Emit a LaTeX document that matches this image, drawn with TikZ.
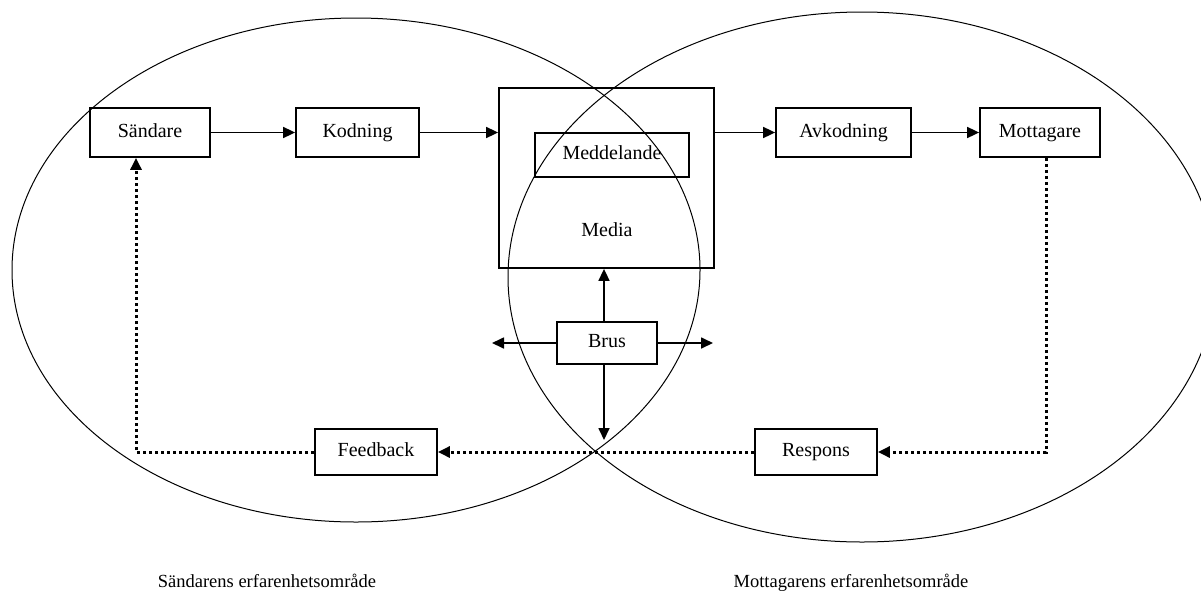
\documentclass[tikz,border=0pt]{standalone}
\usepackage{fontspec}
\setmainfont{Liberation Serif}
\usetikzlibrary{arrows.meta}

\begin{document}
\begin{tikzpicture}[x=1pt,y=-1pt,
    box/.style={draw,line width=1.8pt,inner sep=0pt,text height=13pt,text depth=4pt,
        font=\fontsize{20}{22}\selectfont},
    flow/.style={line width=1.7pt,-{Triangle[length=12pt,width=11pt]}},
    back/.style={flow,line width=3pt,dash pattern=on 3pt off 3pt},
    area/.style={text height=13pt,text depth=4pt,font=\fontsize{18.5}{20}\selectfont}]
    \useasboundingbox (0,0) rectangle (1201,603);
    \clip (0,0) rectangle (1201,603);
    % the two fields of experience
    \draw[line width=1pt] (356,270) ellipse [x radius=344, y radius=252];
    \draw[line width=1pt] (862,277) ellipse [x radius=354, y radius=265];
    \node[area] (sarea) at (267,583) {Sändarens erfarenhetsområde};
    \node[area] (marea) at (851,583) {Mottagarens erfarenhetsområde};
    % upper chain
    \node[box,minimum width=120,minimum height=49] (sand) at (150,132.5) {Sändare};
    \node[box,minimum width=123,minimum height=49] (kod) at (357.5,132.5) {Kodning};
    \node[box,minimum width=215,minimum height=180] (media) at (606.5,178) {};
    \node[box,minimum width=154,minimum height=44] (medd) at (612,155) {Meddelande};
    \node[box,draw=none] (mtext) at (607,232) {Media};
    \node[box,minimum width=135,minimum height=49] (avk) at (843.5,132.5) {Avkodning};
    \node[box,minimum width=120,minimum height=49] (mott) at (1040,132.5) {Mottagare};
    \draw[flow] (sand) -- (kod);
    \draw[flow] (kod.east) -- (kod.east -| media.west);
    \draw[flow] (media.east |- avk.west) -- (avk.west);
    \draw[flow] (avk) -- (mott);
    % noise
    \node[box,minimum width=100,minimum height=42] (brus) at (607,343) {Brus};
    \coordinate (nleft) at (492,343);
    \coordinate (nright) at (713,343);
    \coordinate (ndown) at (604,440);
    \draw[flow] (brus.north -| ndown) -- (ndown |- media.south);
    \draw[flow] (brus.west) -- (nleft);
    \draw[flow] (brus.east) -- (nright);
    \draw[flow] (brus.south -| ndown) -- (ndown);
    % response and feedback
    \node[box,minimum width=122,minimum height=46] (resp) at (816,452) {Respons};
    \node[box,minimum width=122,minimum height=46] (fbk) at (376,452) {Feedback};
    \coordinate (rturn) at (1046,452);
    \coordinate (fturn) at (136,452);
    \draw[back] (mott.south -| rturn) -- (rturn) -- (resp.east);
    \draw[back] (resp.west) -- (fbk.east);
    \draw[back] (fbk.west) -- (fturn) -- (fturn |- sand.south);
\end{tikzpicture}
\end{document}
